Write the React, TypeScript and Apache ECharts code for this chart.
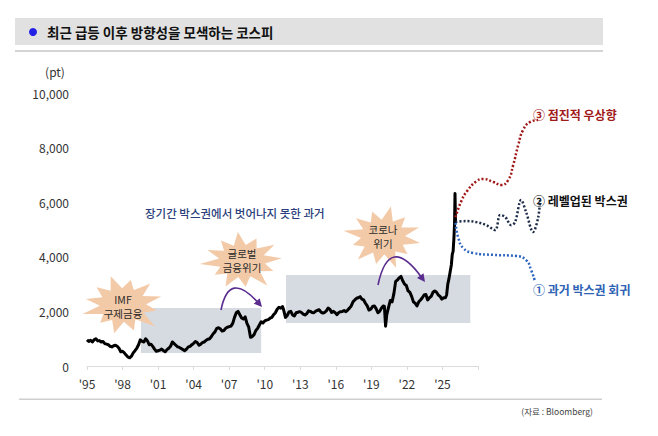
import React, { useEffect, useRef } from "react";
import * as echarts from "echarts";

const FONT = '"Noto Sans CJK KR", "Noto Sans", sans-serif';

const xTicks = [1995, 1998, 2001, 2004, 2007, 2010, 2013, 2016, 2019, 2022, 2025];
const yTicks = [0, 2000, 4000, 6000, 8000, 10000];

const kospiYears = [
  1995.0, 1995.15, 1995.3, 1995.45, 1995.6, 1995.75, 1995.9, 1996.05, 1996.2, 1996.35, 1996.5, 1996.65, 1996.8, 1996.95,
  1997.1, 1997.25, 1997.4, 1997.55, 1997.7, 1997.85, 1998.0, 1998.15, 1998.3, 1998.45, 1998.6, 1998.75, 1998.9,
  1999.05, 1999.2, 1999.35, 1999.5, 1999.65, 1999.8, 1999.95, 2000.1, 2000.25, 2000.4, 2000.55, 2000.7, 2000.85,
  2001.0, 2001.15, 2001.3, 2001.45, 2001.6, 2001.75, 2001.9, 2002.05, 2002.2, 2002.35, 2002.5, 2002.65, 2002.8, 2002.95,
  2003.1, 2003.25, 2003.4, 2003.55, 2003.7, 2003.85, 2004.0, 2004.15, 2004.3, 2004.45, 2004.6, 2004.75, 2004.9,
  2005.05, 2005.2, 2005.35, 2005.5, 2005.65, 2005.8, 2005.95, 2006.1, 2006.25, 2006.4, 2006.55, 2006.7, 2006.85,
  2007.0, 2007.15, 2007.3, 2007.45, 2007.6, 2007.75, 2007.9, 2008.05, 2008.2, 2008.35, 2008.5, 2008.65, 2008.8, 2008.95,
  2009.1, 2009.25, 2009.4, 2009.55, 2009.7, 2009.85, 2010.0, 2010.15, 2010.3, 2010.45, 2010.6, 2010.75, 2010.9,
  2011.05, 2011.2, 2011.35, 2011.5, 2011.6, 2011.75, 2011.9, 2012.05, 2012.2, 2012.35, 2012.5, 2012.65, 2012.8, 2012.95,
  2013.1, 2013.25, 2013.4, 2013.55, 2013.7, 2013.85, 2014.0, 2014.15, 2014.3, 2014.45, 2014.6, 2014.75, 2014.9,
  2015.05, 2015.2, 2015.35, 2015.5, 2015.65, 2015.8, 2015.95, 2016.1, 2016.25, 2016.4, 2016.55, 2016.7, 2016.85,
  2017.0, 2017.15, 2017.3, 2017.45, 2017.6, 2017.75, 2017.9, 2018.05, 2018.2, 2018.35, 2018.5, 2018.65, 2018.8, 2018.95,
  2019.1, 2019.25, 2019.4, 2019.55, 2019.7, 2019.85, 2020.0, 2020.1, 2020.2, 2020.3, 2020.45, 2020.6, 2020.75, 2020.9,
  2021.05, 2021.2, 2021.35, 2021.5, 2021.65, 2021.8, 2021.95, 2022.1, 2022.25, 2022.4, 2022.55, 2022.7, 2022.85,
  2023.0, 2023.15, 2023.3, 2023.45, 2023.6, 2023.75, 2023.9, 2024.05, 2024.2, 2024.35, 2024.5, 2024.65, 2024.8, 2024.95,
  2025.1, 2025.25, 2025.35, 2025.45, 2025.55, 2025.65, 2025.75, 2025.83, 2025.9, 2025.97, 2026.02, 2026.06, 2026.1,
];
const kospiValues = [
  960, 900, 940, 880, 960, 1000, 920, 930, 880, 900, 820, 800, 780, 720,
  700, 740, 760, 720, 650, 520, 540, 480, 400, 330, 300, 360, 480,
  560, 650, 780, 960, 900, 880, 1000, 920, 780, 800, 720, 620, 540,
  560, 580, 620, 560, 520, 600, 650, 720, 880, 820, 760, 700, 680, 640,
  600, 560, 620, 700, 720, 780, 830, 900, 860, 760, 800, 860, 880,
  940, 980, 1000, 1080, 1180, 1250, 1380, 1400, 1360, 1280, 1300, 1380, 1420,
  1440, 1460, 1560, 1780, 1950, 2000, 1880, 1760, 1720, 1800, 1560, 1420, 1050, 1080,
  1150, 1300, 1380, 1500, 1620, 1580, 1650, 1680, 1700, 1750, 1780, 1880, 1950,
  2080, 2150, 2120, 2180, 2050, 1780, 1850, 1980, 2000, 1870, 1830, 1950, 1970, 1990,
  1960, 1900, 1870, 1920, 2020, 2000, 1960, 1950, 2010, 2040, 2060, 1970, 1940,
  1960, 2020, 2120, 2080, 1960, 2000, 1950, 1880, 1960, 1990, 2000, 2030, 1990,
  2050, 2120, 2200, 2350, 2420, 2480, 2500, 2540, 2450, 2420, 2300, 2200, 2050, 2080,
  2180, 2200, 2100, 1950, 2000, 2120, 2200, 2180, 1460, 1880, 2150, 2400, 2350, 2650,
  3100, 3150, 3230, 3280, 3120, 3000, 2950, 2750, 2700, 2550, 2350, 2300, 2200,
  2350, 2420, 2500, 2600, 2620, 2420, 2500, 2550, 2700, 2750, 2700, 2600, 2550, 2450,
  2500, 2500, 2600, 3000, 3200, 3450, 3700, 4100, 4200, 4700, 5200, 6320, 5300,
];

const boxX = [
  [1999.55, 2009.7],
  [2011.8, 2027.35],
];
const boxY = [
  [480, 2120],
  [1575, 3330],
];

const gradualYears = [2026.1, 2026.6, 2027.1, 2027.85, 2028.45, 2029.3, 2029.96, 2030.55, 2030.97, 2031.4, 2031.8, 2032.4, 2033.07];
const gradualValues = [5450, 6050, 6420, 6760, 6850, 6740, 6630, 6810, 7360, 8100, 8640, 8940, 9010];

const levelUpYears = [2026.1, 2027.02, 2027.86, 2028.7, 2029.45, 2029.87, 2030.3, 2030.8, 2031.13, 2031.64, 2032.06, 2032.65, 2033.07, 2033.24];
const levelUpValues = [5270, 5310, 5270, 5160, 4980, 5530, 5460, 5160, 5270, 6080, 5640, 4910, 5420, 6080];

const revertYears = [2026.1, 2026.34, 2026.76, 2027.6, 2029.29, 2031.22, 2032.06, 2032.48, 2032.82];
const revertValues = [5240, 4690, 4320, 4140, 4070, 4030, 3880, 3520, 3080];

const zip = (xs: number[], ys: number[]) => xs.map((x, i) => [x, ys[i]]);

function starPoints(cx: number, cy: number, rx: number, ry: number, n: number, rot: number) {
  const wobble = [1.0, 0.86, 1.08, 0.92, 1.0, 0.84, 1.06, 0.95, 0.9, 1.04, 0.88, 1.0];
  const pts: number[][] = [];
  for (let i = 0; i < n * 2; i++) {
    const a = rot + (Math.PI * i) / n;
    const outer = i % 2 === 0;
    const f = outer ? wobble[(i / 2) % wobble.length] : 0.58;
    pts.push([cx + Math.cos(a) * rx * f, cy + Math.sin(a) * ry * f]);
  }
  return pts;
}

function arrow(x0: number, y0: number, cx: number, cy: number, x1: number, y1: number, color: string) {
  const dx = x1 - cx;
  const dy = y1 - cy;
  const len = Math.sqrt(dx * dx + dy * dy);
  const ux = dx / len;
  const uy = dy / len;
  const bx = x1 - ux * 8;
  const by = y1 - uy * 8;
  return [
    {
      type: "bezierCurve",
      shape: { x1: x0, y1: y0, cpx1: cx, cpy1: cy, x2: bx + ux * 2, y2: by + uy * 2 },
      style: { stroke: color, lineWidth: 1.6, fill: "none" },
      z: 20,
    },
    {
      type: "polygon",
      shape: { points: [[x1, y1], [bx - uy * 4, by + ux * 4], [bx + uy * 4, by - ux * 4]] },
      style: { fill: color },
      z: 20,
    },
  ];
}

function label(x: number, y: number, text: string) {
  return {
    type: "text", x, y, z: 16,
    style: { text, font: `10.5px ${FONT}`, fill: "#2a2a2a", textAlign: "center", textVerticalAlign: "middle" },
  };
}

// pixel span of main x axis: 1995..2028 over 391px; projection grid reaches x=545
const PX_PER_YEAR = 391 / 33;
const projMax = 1995 + (545 - 87) / PX_PER_YEAR;

export default function App() {
  const ref = useRef<HTMLDivElement>(null);
  useEffect(() => {
    document.body.style.margin = "0";
    if (!ref.current) return;
    const chart = echarts.init(ref.current, null, { renderer: "svg" });
    const starColor = "#f3caa8";
    const purple = "#5b2c8f";
    const graphic: any[] = [
      { type: "rect", shape: { x: 15, y: 18, width: 588, height: 27 }, style: { fill: "#e1e1e1" }, z: 1 },
      { type: "rect", shape: { x: 15, y: 50, width: 588, height: 2 }, style: { fill: "#d4d4d4" }, z: 1 },
      { type: "circle", shape: { cx: 33, cy: 32, r: 4 }, style: { fill: "#2222e6" }, z: 2 },
      {
        type: "text", x: 47, y: 32,
        style: { text: "최근 급등 이후 방향성을 모색하는 코스피", font: `bold 13.5px ${FONT}`, fill: "#111", textVerticalAlign: "middle" },
        z: 2,
      },
      {
        type: "text", x: 55, y: 71,
        style: { text: "(pt)", font: `12px ${FONT}`, fill: "#333", textAlign: "center", textVerticalAlign: "middle" },
      },
      { type: "rect", shape: { x: 19, y: 398.5, width: 583, height: 1.5 }, style: { fill: "#cfcfcf" } },
      {
        type: "text", x: 593, y: 411,
        style: { text: "(자료 : Bloomberg)", font: `8.5px ${FONT}`, fill: "#444", textAlign: "right", textVerticalAlign: "middle" },
      },
      {
        type: "text", x: 145, y: 213,
        style: { text: "장기간 박스권에서 벗어나지 못한 과거", font: `500 11.5px ${FONT}`, fill: "#2c3f7c", textVerticalAlign: "middle" },
      },
      { type: "polygon", shape: { points: starPoints(123, 305, 40, 29, 12, -0.3) }, style: { fill: starColor }, z: 15 },
      label(123, 299, "IMF"),
      label(123, 313, "구제금융"),
      { type: "polygon", shape: { points: starPoints(242, 261, 40, 28, 12, -0.1) }, style: { fill: starColor }, z: 15 },
      label(242, 253, "글로벌"),
      label(242, 267, "금융위기"),
      { type: "polygon", shape: { points: starPoints(383, 237, 38, 30, 12, 0.2) }, style: { fill: starColor }, z: 15 },
      label(383, 229.5, "코로나"),
      label(383, 243.5, "위기"),
      ...arrow(221, 310, 229, 270, 262, 307, purple),
      ...arrow(378, 285, 389, 233, 425, 282, purple),
      {
        type: "text", x: 533, y: 114,
        style: { text: "③ 점진적 우상향", font: `bold 12px ${FONT}`, fill: "#a11a1a", textVerticalAlign: "middle" },
      },
      {
        type: "text", x: 533, y: 200,
        style: { text: "② 레벨업된 박스권", font: `bold 12px ${FONT}`, fill: "#111", textVerticalAlign: "middle" },
      },
      {
        type: "text", x: 533, y: 289,
        style: { text: "① 과거 박스권 회귀", font: `bold 12px ${FONT}`, fill: "#2d62b4", textVerticalAlign: "middle" },
      },
    ];

    const projLine = (xs: number[], ys: number[], color: string, smooth: number) => ({
      type: "line",
      xAxisIndex: 1,
      yAxisIndex: 1,
      z: 4,
      smooth,
      data: zip(xs, ys),
      symbol: "none",
      lineStyle: { color, width: 2.5, type: [2, 2] },
    });

    chart.setOption({
      animation: false,
      grid: [
        { left: 87, right: 180, top: 93, bottom: 70 },
        { left: 87, right: 113, top: 93, bottom: 70 },
      ],
      xAxis: [
        {
          type: "value",
          gridIndex: 0,
          min: xTicks[0],
          max: 2028,
          interval: 3,
          splitLine: { show: false },
          axisLine: { lineStyle: { color: "#dcdcdc", width: 1 } },
          axisTick: { show: true, length: 4, lineStyle: { color: "#dcdcdc" } },
          axisLabel: {
            color: "#333",
            fontSize: 12,
            fontFamily: FONT,
            margin: 11,
            formatter: (v: number) => (xTicks.indexOf(v) >= 0 ? "'" + String(v).slice(2) : ""),
          },
        },
        {
          type: "value",
          gridIndex: 1,
          min: xTicks[0],
          max: projMax,
          show: false,
        },
      ],
      yAxis: [
        {
          type: "value",
          gridIndex: 0,
          min: yTicks[0],
          max: yTicks[yTicks.length - 1],
          interval: 2000,
          splitLine: { show: false },
          axisLine: { show: false },
          axisTick: { show: false },
          axisLabel: {
            color: "#333",
            fontSize: 12,
            fontFamily: FONT,
            margin: 18,
            formatter: (v: number) => v.toLocaleString("en-US"),
          },
        },
        {
          type: "value",
          gridIndex: 1,
          min: yTicks[0],
          max: yTicks[yTicks.length - 1],
          show: false,
        },
      ],
      graphic,
      series: [
        {
          type: "line",
          z: 1,
          data: [],
          symbol: "none",
          lineStyle: { opacity: 0 },
          markArea: {
            silent: true,
            itemStyle: { color: "#d6dae1" },
            data: boxX.map((bx, i) => [
              { coord: [bx[0], boxY[i][0]] },
              { coord: [bx[1], boxY[i][1]] },
            ]),
          },
        },
        {
          type: "line",
          z: 3,
          data: zip(kospiYears, kospiValues),
          symbol: "none",
          lineStyle: { color: "#000", width: 3, join: "round" },
        },
        projLine(gradualYears, gradualValues, "#a01818", 0.5),
        projLine(levelUpYears, levelUpValues, "#1c2b48", 0.35),
        projLine(revertYears, revertValues, "#2e66c0", 0.5),
      ],
    });
    return () => chart.dispose();
  }, []);
  return <div ref={ref} style={{ position: "absolute", left: 0, top: 0, width: 658, height: 436 }} />;
}
